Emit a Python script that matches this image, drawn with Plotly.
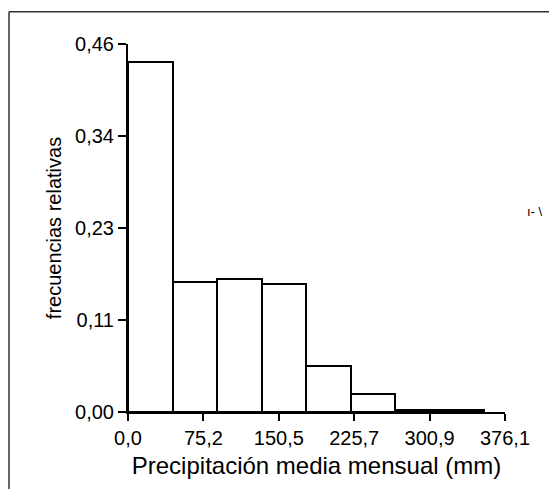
import plotly.graph_objects as go

# Data
bin_edges = [0.0, 44.4, 88.8, 133.2, 177.6, 222.0, 266.4, 310.8, 355.2]
rel_freq = [0.438, 0.162, 0.166, 0.160, 0.058, 0.022, 0.003, 0.002]

x_tickvals = [0.0, 75.22, 150.44, 225.66, 300.88, 376.1]
x_ticktext = ["0,0", "75,2", "150,5", "225,7", "300,9", "376,1"]
y_tickvals = [0.0, 0.115, 0.23, 0.345, 0.46]
y_ticktext = ["0,00", "0,11", "0,23", "0,34", "0,46"]

lefts = bin_edges[:-1]
widths = [b - a for a, b in zip(bin_edges[:-1], bin_edges[1:])]

FONT = "Liberation Sans, Arial, sans-serif"

# plot area in page pixels (reference): x 128..505, y 44..412; page body adds 8px offset
PL, PT, PW, PH = 128, 44.3, 377, 368


def px(xp):
    return (xp - PL) / PW


def py(yp):
    return (PT + PH - yp) / PH


fig = go.Figure()
fig.add_trace(go.Bar(
    x=lefts, y=rel_freq, width=widths, offset=0,
    marker=dict(color="white", line=dict(color="black", width=2)),
    showlegend=False, hoverinfo="skip",
))

fig.update_layout(
    width=557, height=489,
    margin=dict(l=PL - 8, r=557 - (PL - 8) - PW, t=PT - 8, b=489 - (PT - 8) - PH),
    paper_bgcolor="white", plot_bgcolor="white",
    font=dict(family=FONT, color="black", size=20),
    bargap=0,
    xaxis=dict(
        range=[0, 376.1], tickmode="array", tickvals=x_tickvals, ticktext=x_ticktext,
        showgrid=False, zeroline=False, showline=True, linecolor="black", linewidth=2,
        ticks="outside", ticklen=7, tickwidth=2, tickcolor="black",
        tickfont=dict(size=20),
        title=dict(text="Precipitación media mensual (mm)", font=dict(size=24), standoff=9),
    ),
    yaxis=dict(
        range=[0, 0.46], tickmode="array", tickvals=y_tickvals, ticktext=y_ticktext,
        showgrid=False, zeroline=False, showline=True, linecolor="black", linewidth=2,
        ticks="outside", ticklen=8, tickwidth=1.5, tickcolor="black",
        tickfont=dict(size=20),
        title=dict(text="frecuencias relativas", font=dict(size=20), standoff=8),
    ),
    shapes=[
        dict(type="line", xref="paper", yref="paper",
             x0=px(9), x1=px(620), y0=py(12), y1=py(12),
             line=dict(color="#333333", width=1.5)),
        dict(type="line", xref="paper", yref="paper",
             x0=px(9), x1=px(9), y0=py(12), y1=py(520),
             line=dict(color="#333333", width=1.5)),
    ],
    annotations=[
        dict(text="ı- \\", xref="paper", yref="paper",
             x=px(545), y=py(212),
             showarrow=False, font=dict(size=13, color="black")),
    ],
)

fig.write_html("out.html")
